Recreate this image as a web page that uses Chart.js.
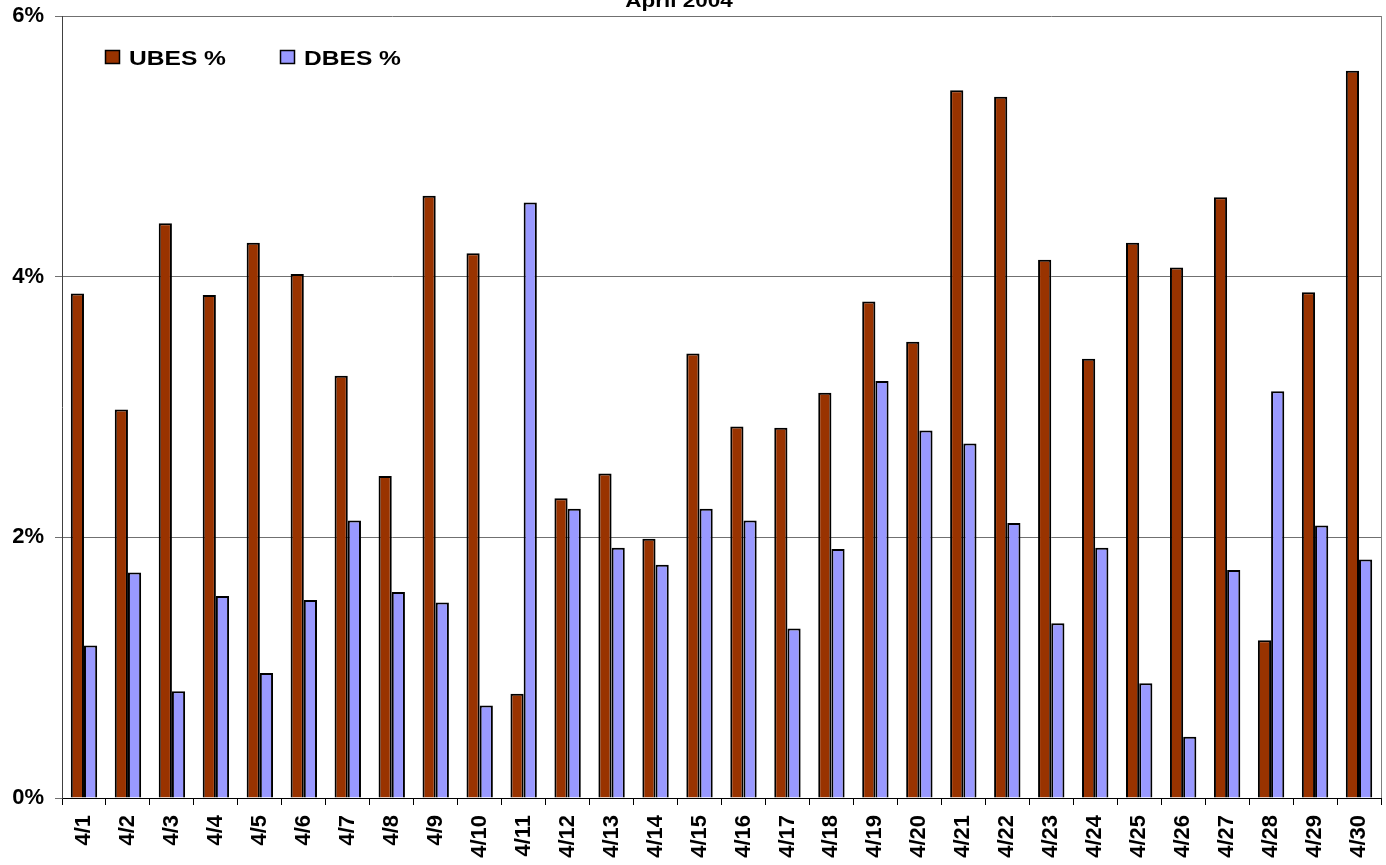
<!DOCTYPE html>
<html>
<head>
<meta charset="utf-8">
<script src="https://cdn.jsdelivr.net/npm/chart.js@4.4.1/dist/chart.umd.min.js"></script>
<style>
  html, body { margin: 0; padding: 0; background: #fff; }
  #wrap { width: 1386px; height: 865px; position: relative; }
</style>
</head>
<body>
<div id="wrap"><canvas id="c" width="1386" height="865"></canvas></div>
<script>
const chartTitle = "April 2004";
const categories = ["4/1","4/2","4/3","4/4","4/5","4/6","4/7","4/8","4/9","4/10",
  "4/11","4/12","4/13","4/14","4/15","4/16","4/17","4/18","4/19","4/20",
  "4/21","4/22","4/23","4/24","4/25","4/26","4/27","4/28","4/29","4/30"];
const ubesLabel = "UBES %";
const dbesLabel = "DBES %";
const ubesValues = [3.87, 2.98, 4.41, 3.86, 4.26, 4.02, 3.24, 2.47, 4.62, 4.18,
  0.80, 2.30, 2.49, 1.99, 3.41, 2.85, 2.84, 3.11, 3.81, 3.50,
  5.43, 5.38, 4.13, 3.37, 4.26, 4.07, 4.61, 1.21, 3.88, 5.58];
const dbesValues = [1.17, 1.73, 0.82, 1.55, 0.96, 1.52, 2.13, 1.58, 1.50, 0.71,
  4.57, 2.22, 1.92, 1.79, 2.22, 2.13, 1.30, 1.91, 3.20, 2.82,
  2.72, 2.11, 1.34, 1.92, 0.88, 0.47, 1.75, 3.12, 2.09, 1.83];
const yTicks = [0, 2, 4, 6];

const FONT = "'Liberation Sans', Arial, sans-serif";

const overlay = {
  id: 'overlay',
  afterDraw(chart) {
    const ctx = chart.ctx;
    const a = chart.chartArea;
    ctx.save();
    ctx.strokeStyle = '#808080';
    ctx.lineWidth = 1;
    ctx.beginPath();
    ctx.moveTo(Math.round(a.right) + 0.5, a.top);
    ctx.lineTo(Math.round(a.right) + 0.5, a.bottom);
    ctx.stroke();

    ctx.fillStyle = '#000';
    ctx.font = 'bold 18px ' + FONT;
    ctx.textAlign = 'center';
    ctx.textBaseline = 'alphabetic';
    ctx.save();
    ctx.translate(679, 7);
    ctx.scale(1.25, 1);
    ctx.fillText(chartTitle, 0, 0);
    ctx.restore();

    const items = chart.data.datasets.map(d => ({ text: d.label, color: d.backgroundColor }));
    const xs = [105, 280];
    items.forEach((it, i) => {
      const x = xs[i];
      ctx.fillStyle = it.color;
      ctx.fillRect(x, 50, 15, 14);
      ctx.strokeStyle = '#000';
      ctx.lineWidth = 1.5;
      ctx.strokeRect(x + 0.5, 50.5, 14, 13);
      ctx.fillStyle = '#000';
      ctx.font = 'bold 21px ' + FONT;
      ctx.textAlign = 'left';
      ctx.save();
      ctx.translate(x + 24, 65);
      ctx.scale(1.17, 1);
      ctx.fillText(it.text, 0, 0);
      ctx.restore();
    });
    ctx.restore();
  }
};

new Chart(document.getElementById('c'), {
  type: 'bar',
  data: {
    labels: categories,
    datasets: [
      { label: ubesLabel, data: ubesValues, backgroundColor: '#993300', borderColor: '#000', borderWidth: 2,
        categoryPercentage: 0.6, barPercentage: 1.0 },
      { label: dbesLabel, data: dbesValues, backgroundColor: '#9999FF', borderColor: '#000', borderWidth: 2,
        categoryPercentage: 0.6, barPercentage: 1.0 }
    ]
  },
  options: {
    responsive: false,
    animation: false,
    layout: { padding: { top: 0, right: 0, left: 0, bottom: 0 } },
    plugins: {
      legend: { display: false },
      title: { display: false },
      tooltip: { enabled: false }
    },
    scales: {
      x: {
        offset: true,
        grid: { display: true, offset: true, drawOnChartArea: false, drawTicks: true, tickLength: 7, color: '#000', lineWidth: 1 },
        border: { display: true, color: '#000', width: 1 },
        ticks: {
          color: '#000',
          font: { family: FONT, size: 22, weight: 'bold' },
          minRotation: 90, maxRotation: 90, autoSkip: false, padding: 10
        },
        afterFit(scale) { scale.height = 67; scale.paddingLeft = 0; scale.paddingRight = 5; }
      },
      y: {
        min: 0, max: 6,
        afterBuildTicks(scale) { scale.ticks = yTicks.map(v => ({ value: v })); },
        grid: { color: '#707070', lineWidth: 1, tickLength: 7, drawTicks: true },
        border: { display: true, color: '#404040', width: 1 },
        ticks: {
          color: '#000',
          font: { family: FONT, size: 22, weight: 'bold' },
          padding: 11,
          callback: v => v + '%'
        },
        afterFit(scale) { scale.width = 62; scale.paddingTop = 16; scale.paddingBottom = 0; }
      }
    }
  },
  plugins: [overlay]
});
</script>
</body>
</html>
